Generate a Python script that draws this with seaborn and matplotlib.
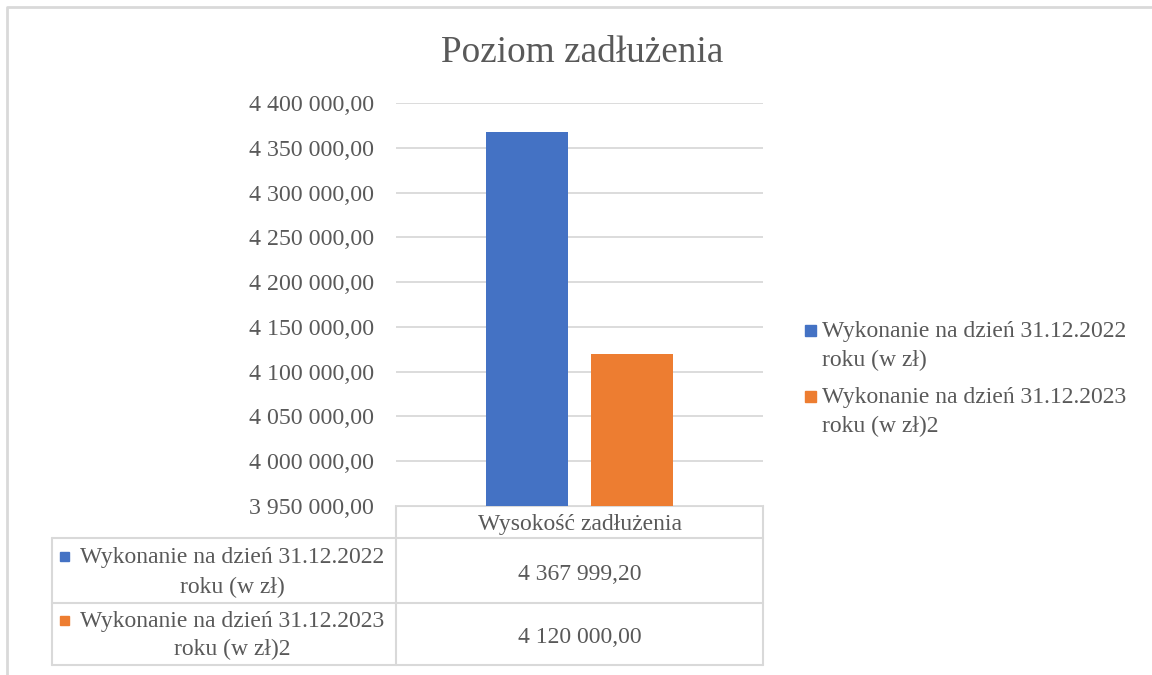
import numpy as np
import pandas as pd
import matplotlib
matplotlib.use("Agg")
import matplotlib.pyplot as plt
import seaborn as sns
from matplotlib.patches import Rectangle

# dane
kategorie = ["Wysokość zadłużenia"]
serie = ["Wykonanie na dzień 31.12.2022 roku (w zł)",
         "Wykonanie na dzień 31.12.2023 roku (w zł)2"]
wartosci = [4367999.20, 4120000.00]
kolory = ["#4472C4", "#ED7D31"]
y_ticks = [3950000, 4000000, 4050000, 4100000, 4150000, 4200000,
           4250000, 4300000, 4350000, 4400000]

szary = "#595959"
siatka = "#d9d9d9"


def fmt(v):
    return f"{v:,.2f}".replace(",", " ").replace(".", ",")


def linie(s):
    a, b = s.split(" roku")
    return a, "roku" + b


df = pd.DataFrame({"kategoria": kategorie * len(serie), "seria": serie, "wartosc": wartosci})

sns.set_style("white")
plt.rcParams["font.family"] = ["Liberation Serif", "DejaVu Serif"]

W, H = 1152, 675
fig = plt.figure(figsize=(W / 100, H / 100), dpi=100)

ax = fig.add_axes([396 / W, 1 - 506 / H, 367 / W, 403 / H])
sns.barplot(data=df, x="kategoria", y="wartosc", hue="seria", hue_order=serie,
            palette=kolory, width=0.572, gap=0.21, ax=ax, legend=False,
            saturation=1, edgecolor="none", linewidth=0)
ax.set_ylim(y_ticks[0], y_ticks[-1])
ax.set_xlim(-0.5, 0.5)
ax.set_yticks(y_ticks)
ax.set_yticklabels([fmt(v) for v in y_ticks], fontsize=17.2, color=szary)
ax.set_xticks([])
ax.set_xlabel("")
ax.set_ylabel("")
ax.tick_params(axis="y", length=0, pad=16)
ax.yaxis.grid(True, color=siatka, linewidth=1.3)
ax.set_axisbelow(True)
for sp in ax.spines.values():
    sp.set_visible(False)

# nakladka: tytul, tabela danych, legenda
ov = fig.add_axes([0, 0, 1, 1], zorder=-1)
ov.set_xlim(0, W)
ov.set_ylim(H, 0)
ov.axis("off")

ov.plot([7, 7, W], [H, 7, 7], color=siatka, lw=2)
ov.text(582, 62, "Poziom zadłużenia", fontsize=26.8, color=szary, ha="center", va="baseline")

lw = 1.5
ov.plot([396, 763], [506, 506], color=siatka, lw=lw)
for yy in [538, 603, 665]:
    ov.plot([52, 763], [yy, yy], color=siatka, lw=lw)
ov.plot([52, 52], [538, 665], color=siatka, lw=lw)
ov.plot([396, 396], [506, 665], color=siatka, lw=lw)
ov.plot([763, 763], [506, 665], color=siatka, lw=lw)

ov.text(579.5, 530, kategorie[0], fontsize=17, color=szary, ha="center", va="baseline")
row_base = [(563, 593), (627, 655)]
val_base = [580, 643]
for s, v, c, (b1, b2), vb in zip(serie, wartosci, kolory, row_base, val_base):
    l1, l2 = linie(s)
    ov.text(232, b1, l1, fontsize=17, color=szary, ha="center", va="baseline")
    ov.text(232, b2, l2, fontsize=17, color=szary, ha="center", va="baseline")
    ov.add_patch(Rectangle((60, b1 - 11), 9, 9, color=c))
    ov.text(579.5, vb, fmt(v), fontsize=17, color=szary, ha="center", va="baseline")

leg_base = [(337, 366), (403, 432)]
for s, c, (b1, b2) in zip(serie, kolory, leg_base):
    l1, l2 = linie(s)
    ov.add_patch(Rectangle((805, b1 - 12), 11, 11, color=c))
    ov.text(822, b1, l1, fontsize=17, color=szary, ha="left", va="baseline")
    ov.text(822, b2, l2, fontsize=17, color=szary, ha="left", va="baseline")

fig.savefig("out.png", dpi=100)
